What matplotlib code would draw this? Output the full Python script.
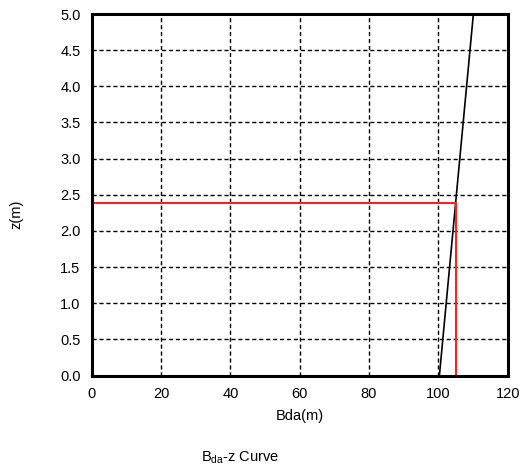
import matplotlib
matplotlib.use("Agg")
import matplotlib.pyplot as plt

# Bda-z curve
bda = [100.3, 110.1]
z = [0.0, 5.0]

# Reading at the design depth
z_read = 2.39
bda_read = 105.0

x_ticks = [0, 20, 40, 60, 80, 100, 120]
y_ticks = [0.0, 0.5, 1.0, 1.5, 2.0, 2.5, 3.0, 3.5, 4.0, 4.5, 5.0]

plt.rcParams['font.family'] = ['Liberation Sans', 'DejaVu Sans']

fig = plt.figure(figsize=(5.2, 4.75), dpi=100)
ax = fig.add_axes([91.7 / 520, 1 - 375.5 / 475, 416 / 520, 361.5 / 475])

ax.plot(bda, z, color='black', lw=1.2, zorder=3)
ax.plot([0, bda_read, bda_read], [z_read, z_read, 0], color='#ff2020', lw=1.5, zorder=4)

ax.set_xlim(0, 120)
ax.set_ylim(0, 5)
ax.set_xticks(x_ticks)
ax.set_yticks(y_ticks)
ax.set_yticklabels([f"{v:.1f}" for v in y_ticks])
ax.tick_params(length=0, labelsize=10.5, pad=8)
ax.grid(True, color='black', linestyle=(0, (3, 2)), lw=1.0)
for s in ax.spines.values():
    s.set_linewidth(2.2)
    s.set_zorder(5)

ax.set_xlabel("Bda(m)", fontsize=10.5, labelpad=6)
fig.text(16 / 520, 1 - 214 / 475, "z(m)", fontsize=10.5, rotation=90, ha='center', va='center')
fig.text(240 / 520, 1 - 458 / 475, r"B$_{\mathregular{da}}$-z Curve", fontsize=10.5, ha='center', va='center')

fig.savefig("out.png", dpi=100)
